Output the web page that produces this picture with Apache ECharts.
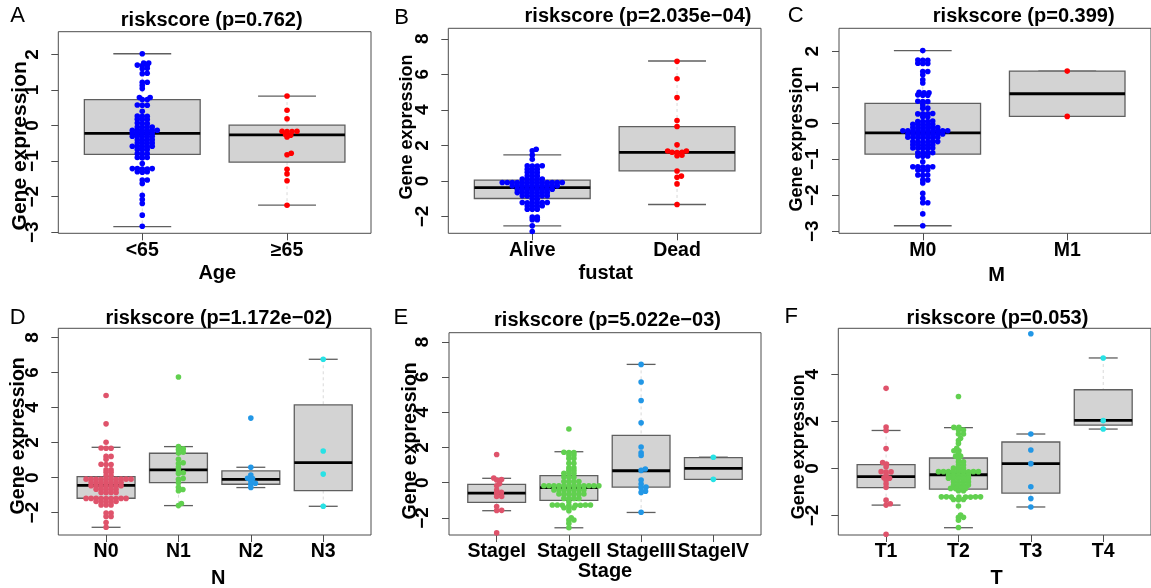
<!DOCTYPE html>
<html><head><meta charset="utf-8">
<script src="https://cdn.jsdelivr.net/npm/echarts@6/dist/echarts.min.js"></script>
<style>html,body{margin:0;padding:0;background:#fff}#c{width:1151px;height:588px}</style>
</head><body><div id="c"></div>
<script>
// ---------------- DATA ----------------
// Panel A: Age
const ageCats = ['<65', '≥65'];
const ageLt65 = [2.02, 1.76,1.76, 1.69,1.69,1.70, 1.60,1.61, 1.46,1.47, 1.22,1.22, 1.13, 1.04,
  0.79,0.79, 0.73,0.73, 0.57,0.57,0.58, 0.40, 0.26,0.26,0.27, 0.17,0.17,0.18, 0.06,0.06,0.07,
  -0.04,-0.04,-0.04,-0.05, -0.13,-0.13,-0.13,-0.13,-0.14,-0.14, -0.21,-0.21,-0.21,-0.22,-0.22,
  -0.30,-0.30,-0.30,-0.31,-0.31, -0.40,-0.40,-0.40,-0.41, -0.49,-0.49,-0.49,-0.50,
  -0.58,-0.58,-0.58,-0.59,-0.59, -0.67,-0.67,-0.68, -0.79,-0.79,-0.80, -0.90,-0.90,-0.91, -1.07,
  -1.21,-1.21,-1.21,-1.22,-1.22, -1.30,-1.30,-1.31, -1.53,-1.53, -1.63,
  -1.96, -2.08, -2.19, -2.52, -2.83];
const ageGe65 = [0.83,0.43,0.19,-0.16,-0.16,-0.17,-0.17,-0.25,-0.27,-0.32,-0.78,-0.82,-1.23,-1.36,-1.55,-2.24];
const ageBoxes = [[-2.84,-0.81,-0.22,0.73,2.02],[-2.24,-1.03,-0.26,0.01,0.83]];

// Panel B: fustat
const fustatCats = ['Alive', 'Dead'];
const fustatAlive = [1.78, 1.69, 1.46, 1.22,
  0.84,0.84,0.85,0.85, 0.65,0.65,0.66, 0.47,0.47,0.48, 0.28,0.28,0.29, 0.09,0.09,0.09,0.10,0.10,
  -0.09,-0.09,-0.09,-0.09,-0.09,-0.09,-0.10,-0.10,-0.10,-0.10,-0.10,-0.10,-0.10,
  -0.28,-0.28,-0.28,-0.28,-0.28,-0.29,-0.29,-0.29,-0.29,-0.29,
  -0.47,-0.47,-0.47,-0.47,-0.48,-0.48,-0.48,-0.48,
  -0.66,-0.66,-0.66,-0.66,-0.67,-0.67,-0.67,
  -0.84,-0.84,-0.84,-0.85,-0.85,-0.85, -1.03,-1.03,
  -1.22,-1.22,-1.22,-1.23,-1.23,-1.23, -1.40,-1.40,-1.41,-1.41, -1.59,-1.59,-1.60,
  -2.04,-2.04, -2.19,-2.19, -2.53, -2.85];
const fustatDead = [6.73,5.75,4.69,3.40,3.06,2.03,1.68,1.68,1.61,1.61,1.60,1.45,1.42,0.56,0.27,0.20,-0.17,-1.33];
const fustatBoxes = [[-2.53,-0.99,-0.38,0.04,1.46],[-1.33,0.56,1.61,3.06,6.75]];

// Panel C: M
const mCats = ['M0', 'M1'];
const mM0 = [2.02, 1.75,1.75,1.76, 1.66,1.66,1.67, 1.44,1.44, 1.35, 1.21, 1.12,
  0.85,0.85,0.86, 0.78,0.78,0.79, 0.60,0.60,0.61, 0.51, 0.42,0.42, 0.26,0.26,0.26,0.27, 0.18,0.18,
  0.05,0.05,0.05,0.06, -0.03,-0.03,-0.03,-0.04,-0.04,
  -0.12,-0.12,-0.12,-0.13,-0.13,-0.13, -0.21,-0.21,-0.21,-0.21,-0.21,-0.22,-0.22,-0.22,-0.22,-0.22,
  -0.30,-0.30,-0.30,-0.30,-0.31,-0.31,-0.31,-0.31, -0.39,-0.39,-0.39,-0.40,-0.40,-0.40,-0.40,
  -0.51,-0.51,-0.51,-0.52,-0.52,-0.52, -0.60,-0.60,-0.60,-0.61,-0.61, -0.69,-0.69,-0.69,-0.70,-0.70,
  -0.82,-0.82,-0.82,-0.83, -0.91,-0.91,-0.92, -1.07,
  -1.21,-1.21,-1.21,-1.22,-1.22, -1.30,-1.30,-1.31, -1.44,-1.44,-1.45, -1.58,-1.58, -1.66,
  -1.95, -2.09, -2.21,-2.21, -2.52, -2.85];
const mM1 = [1.45,0.19];
const mBoxes = [[-2.85,-0.86,-0.27,0.55,2.02],[0.19,0.19,0.82,1.45,1.45]];

// Panel D: N
const nCats = ['N0','N1','N2','N3'];
const nN0 = [4.69, 3.07, 2.02, 1.68,1.68,1.69, 1.21,1.21, 1.05, 0.75,0.75,0.76, 0.45,0.45, 0.30,0.30, 0.10,0.10,
  -0.09,-0.09,-0.09,-0.09,-0.09,-0.10,-0.10,-0.10,-0.10,-0.10,
  -0.28,-0.28,-0.28,-0.28,-0.29,-0.29,-0.29,
  -0.47,-0.47,-0.47,-0.47,-0.48,-0.48,-0.48,
  -0.66,-0.66,-0.66,-0.67,-0.67, -0.85,-0.85,-0.85,-0.86,
  -1.19,-1.19,-1.19,-1.19,-1.19,-1.20,-1.20,-1.20,-1.20,
  -1.37,-1.37,-1.37,-1.38,-1.38, -1.56,-1.56,-1.57,
  -2.03,-2.03, -2.22,-2.22, -2.57, -2.84];
const nN1 = [5.75,1.77,1.64,1.60,1.45,1.40,1.05,0.85,0.80,0.60,0.44,0.28,0.24,-0.05,-0.10,-0.30,-0.55,-0.68,-0.75,-1.48,-1.60];
const nN2 = [3.40,0.59,0.15,-0.04,-0.06,-0.20,-0.32,-0.38,-0.57];
const nN3 = [6.76,1.52,0.20,-1.64];
const nBoxes = [[-2.84,-1.18,-0.44,0.06,1.73],[-1.60,-0.29,0.44,1.39,1.77],[-0.57,-0.38,-0.10,0.38,0.59],[-1.64,-0.74,0.86,4.15,6.76]];

// Panel E: Stage
const stageCats = ['StageI','StageII','StageIII','StageIV'];
const stageI = [1.60,0.27,0.18,0.15,-0.05,-0.17,-0.42,-0.55,-0.60,-0.78,-0.78,-1.35,-1.57,-1.58,-2.85];
const stageII = [3.05, 1.72,1.72,1.73, 1.57,1.57, 1.38,1.38, 1.10,1.10, 0.85,0.85, 0.70,0.70, 0.53,0.53,0.54, 0.31,0.31,0.32, 0.06,0.06,0.07,0.07,
  -0.17,-0.17,-0.17,-0.17,-0.17,-0.17,-0.18,-0.18,-0.18,-0.18,-0.18,-0.18,
  -0.41,-0.41,-0.41,-0.41,-0.42,-0.42,-0.42, -0.64,-0.64,-0.64,-0.65,-0.65,-0.65,
  -0.89,-0.89,-0.89,-0.90, -1.08,
  -1.27,-1.27,-1.27,-1.27,-1.28,-1.28,-1.28,-1.28, -1.42,-1.42,-1.43, -1.59,
  -1.99, -2.12,-2.12, -2.31, -2.56];
const stageIII = [6.72,5.72,4.67,3.40,2.03,1.70,1.55,0.78,0.70,0.15,-0.08,-0.25,-0.28,-0.48,-0.55,-1.68];
const stageIV = [1.45,0.19];
const stageBoxes = [[-1.59,-1.12,-0.59,-0.09,0.25],[-2.56,-1.00,-0.28,0.40,1.76],[-1.69,-0.25,0.68,2.69,6.72],[0.19,0.19,0.81,1.42,1.45]];

// Panel F: T
const tCats = ['T1','T2','T3','T4'];
const tT1 = [3.40,1.76,1.61,0.84,0.25,0.18,0.07,-0.14,-0.15,-0.16,-0.28,-0.40,-0.42,-0.50,-0.65,-0.80,-1.35,-1.50,-1.56,-2.80];
const tT2 = [3.05, 1.74,1.74, 1.63,1.63, 1.46,1.46, 1.28, 1.18, 1.06, 0.85, 0.75,0.75, 0.64, 0.52,0.52, 0.42, 0.28,0.28, 0.14,0.14, 0.00,0.00,0.01,
  -0.14,-0.14,-0.14,-0.14,-0.14,-0.15,-0.15,-0.15,-0.15,
  -0.28,-0.28,-0.28,-0.29,-0.29, -0.42,-0.42,-0.42,-0.43,-0.43,
  -0.57,-0.57,-0.57,-0.58, -0.71,-0.71,-0.71,-0.72, -0.85,-0.85,-0.85,-0.86, -0.95,-0.95,
  -1.21,-1.21,-1.21,-1.21,-1.22,-1.22,-1.22,-1.22, -1.32,-1.32,-1.33, -1.60,
  -1.98, -2.08,-2.08, -2.20, -2.51];
const tT3 = [5.72,1.46,0.78,0.20,-0.78,-1.28,-1.64];
const tT4 = [4.69,2.03,1.67];
const tBoxes = [[-1.56,-0.82,-0.35,0.16,1.61],[-2.52,-0.88,-0.27,0.44,1.73],[-1.64,-1.05,0.20,1.12,1.46],[1.67,1.84,2.04,3.34,4.69]];

// tick values
const ticksA = [-3,-2,-1,0,1,2];
const ticksB = [-2,0,2,4,6,8];
const ticksC = [-3,-2,-1,0,1,2];
const ticksD = [-2,0,2,4,6,8];
const ticksE = [-2,0,2,4,6,8];
const ticksF = [-2,0,2,4];

const colors2 = ['#0000FF','#FF0000'];
const colors4 = ['#DF536B','#61D04F','#2297E6','#28E2E5'];

// ---------------- LAYOUT ----------------
const panels = [
 {letter:'A', title:'riskscore (p=0.762)', xName:'Age', cats:ageCats, groups:[ageLt65,ageGe65], boxes:ageBoxes, colors:colors2, ticks:ticksA, yMin:-3.03, yMax:2.64,
  grid:{left:58.3, top:31.7, width:312.7, height:201.6}, letterPos:[17.5,16], titlePos:[211.7,20], yNamePos:[20.7,145.8], yNameSize:21, xNamePos:[217.3,273.3]},
 {letter:'B', title:'riskscore (p=2.035e\u221204)', xName:'fustat', cats:fustatCats, groups:[fustatAlive,fustatDead], boxes:fustatBoxes, colors:colors2, ticks:ticksB, yMin:-2.95, yMax:8.59,
  grid:{left:448.3, top:28.3, width:312.7, height:205}, letterPos:[401.7,17.5], titlePos:[638,16.7], yNamePos:[407.5,127], yNameSize:18, xNamePos:[605.8,273.3]},
 {letter:'C', title:'riskscore (p=0.399)', xName:'M', cats:mCats, groups:[mM0,mM1], boxes:mBoxes, colors:colors2, ticks:ticksC, yMin:-3.06, yMax:2.64,
  grid:{left:839, top:28.3, width:312.7, height:205}, letterPos:[795.8,16], titlePos:[1023.7,16], yNamePos:[797.5,139], yNameSize:18, xNamePos:[996.7,275]},
 {letter:'D', title:'riskscore (p=1.172e\u221202)', xName:'N', cats:nCats, groups:[nN0,nN1,nN2,nN3], boxes:nBoxes, colors:colors4, ticks:ticksD, yMin:-3.28, yMax:8.53,
  grid:{left:58.3, top:328.3, width:312.7, height:206.7}, letterPos:[17.8,317.5], titlePos:[218.8,318.3], yNamePos:[18.3,435.8], yNameSize:19.5, xNamePos:[218.3,578.3]},
 {letter:'E', title:'riskscore (p=5.022e\u221203)', xName:'Stage', cats:stageCats, groups:[stageI,stageII,stageIII,stageIV], boxes:stageBoxes, colors:colors4, ticks:ticksE, yMin:-2.97, yMax:8.52,
  grid:{left:449, top:332.7, width:312, height:202.3}, letterPos:[400.8,318.3], titlePos:[607.5,320], yNamePos:[410.8,440.8], yNameSize:19.5, xNamePos:[605,571.7]},
 {letter:'F', title:'riskscore (p=0.053)', xName:'T', cats:tCats, groups:[tT1,tT2,tT3,tT4], boxes:tBoxes, colors:colors4, ticks:ticksF, yMin:-2.83, yMax:5.95,
  grid:{left:838.3, top:328.3, width:312.7, height:206.7}, letterPos:[791.3,316.7], titlePos:[997.5,318.3], yNamePos:[799,446.7], yNameSize:18, xNamePos:[996.7,578.3]}
];

const FONT = '"Liberation Sans", Arial, sans-serif';
const FRAME = '#4d4d4d';
const BOXW = 0.8, STAPLEW = 0.4, PT = 5.6, XS = 5.0, YS = 2.6;
const YLABEL_GAP = 26; // distance from plot frame to centre of y tick labels

// beeswarm "swarm" layout in pixel space (elliptical spacing XS x YS)
function swarm(vals, pxPerY) {
  const idx = vals.map((v, i) => i).sort((a, b) => vals[a] - vals[b]);
  const placed = [], out = new Array(vals.length);
  for (const i of idx) {
    const y = vals[i] * pxPerY;
    const cands = [0];
    for (const p of placed) {
      const dy = Math.abs(p.y - y) / YS;
      if (dy < 1) { const dx = XS * Math.sqrt(1 - dy * dy); cands.push(p.x + dx, p.x - dx); }
    }
    cands.sort((a, b) => Math.abs(a) - Math.abs(b) || b - a);
    let chosen = 0;
    for (const c of cands) {
      let ok = true;
      for (const p of placed) {
        const dx = (p.x - c) / XS, dy = (p.y - y) / YS;
        if (dx * dx + dy * dy < 0.999) { ok = false; break; }
      }
      if (ok) { chosen = c; break; }
    }
    placed.push({ x: chosen, y }); out[i] = chosen;
  }
  return out;
}

const minus = v => String(v).replace('-', '\u2212');

const grids = [], xAxes = [], yAxes = [], series = [], graphics = [];
panels.forEach((P, k) => {
  const n = P.cats.length;
  const xMin = 0.5 - 0.04 * n, xMax = n + 0.5 + 0.04 * n;
  const catVals = P.cats.map((c, i) => i + 1);
  grids.push(Object.assign({ show: true, borderColor: FRAME, borderWidth: 1, backgroundColor: 'transparent' }, P.grid));
  xAxes.push({
    gridIndex: k, type: 'value', min: xMin, max: xMax,
    axisLine: { show: false, onZero: false }, splitLine: { show: false },
    axisTick: { show: true, customValues: catVals, length: 7, lineStyle: { color: FRAME, width: 1 } },
    axisLabel: { show: true, customValues: catVals, formatter: v => P.cats[Math.round(v) - 1] || '', margin: 7,
      align: 'center', verticalAlign: 'top',
      fontSize: 19.5, fontWeight: 'bold', color: '#000', fontFamily: FONT }
  });
  yAxes.push({
    gridIndex: k, type: 'value', min: P.yMin, max: P.yMax,
    axisLine: { show: false, onZero: false }, splitLine: { show: false },
    axisTick: { show: true, customValues: P.ticks, length: 7, lineStyle: { color: FRAME, width: 1 } },
    axisLabel: { show: false }
  });
  // y tick labels, rotated, positioned through the y axis scale
  series.push({
    type: 'custom', xAxisIndex: k, yAxisIndex: k, z: 3, silent: true, clip: false,
    data: P.ticks.map(t => [xMin, t]),
    renderItem: (params, api) => {
      const p = api.coord([api.value(0), api.value(1)]);
      return { type: 'text', x: p[0] - YLABEL_GAP, y: p[1], rotation: Math.PI / 2,
        style: { text: minus(api.value(1)), fontSize: 19, fontWeight: 'bold', fontFamily: FONT, fill: '#000', align: 'center', verticalAlign: 'middle' } };
    }
  });
  // boxes
  series.push({
    type: 'custom', xAxisIndex: k, yAxisIndex: k, z: 2, silent: true,
    data: P.boxes.map((b, i) => [i + 1].concat(b)),
    renderItem: (params, api) => {
      const x = api.value(0), lo = api.value(1), q1 = api.value(2), md = api.value(3), q3 = api.value(4), hi = api.value(5);
      const c = api.coord([x, md]);
      const pl = api.coord([x - BOXW / 2, q3]), pr = api.coord([x + BOXW / 2, q1]);
      const sl = api.coord([x - STAPLEW / 2, hi])[0], sr = api.coord([x + STAPLEW / 2, hi])[0];
      const yHi = api.coord([x, hi])[1], yLo = api.coord([x, lo])[1];
      const grey = '#5f5f5f';
      return { type: 'group', children: [
        { type: 'line', shape: { x1: c[0], y1: yHi, x2: c[0], y2: pl[1] }, style: { stroke: '#d9d9d9', lineWidth: 1, lineDash: [3, 3] } },
        { type: 'line', shape: { x1: c[0], y1: pr[1], x2: c[0], y2: yLo }, style: { stroke: '#d9d9d9', lineWidth: 1, lineDash: [3, 3] } },
        { type: 'line', shape: { x1: sl, y1: yHi, x2: sr, y2: yHi }, style: { stroke: grey, lineWidth: 1.3 } },
        { type: 'line', shape: { x1: sl, y1: yLo, x2: sr, y2: yLo }, style: { stroke: grey, lineWidth: 1.3 } },
        { type: 'rect', shape: { x: pl[0], y: pl[1], width: pr[0] - pl[0], height: pr[1] - pl[1] }, style: { fill: '#D3D3D3', stroke: grey, lineWidth: 1.3 } },
        { type: 'line', shape: { x1: pl[0], y1: c[1], x2: pr[0], y2: c[1] }, style: { stroke: '#000', lineWidth: 2.8 } }
      ] };
    }
  });
  // points
  const pxPerY = P.grid.height / (P.yMax - P.yMin);
  const pxPerX = P.grid.width / (xMax - xMin);
  P.groups.forEach((vals, gi) => {
    const offs = swarm(vals, pxPerY);
    series.push({
      type: 'scatter', xAxisIndex: k, yAxisIndex: k, z: 5, silent: true,
      symbol: 'circle', symbolSize: PT,
      itemStyle: { color: P.colors[gi], opacity: 1 },
      data: vals.map((v, j) => [gi + 1 + offs[j] / pxPerX, v])
    });
  });
  const txt = (pos, text, size, weight, rot) => ({ type: 'text', x: pos[0], y: pos[1], rotation: rot || 0, silent: true,
    style: { text, fontSize: size, fontWeight: weight, fontFamily: FONT, fill: '#000', align: 'center', verticalAlign: 'middle' } });
  graphics.push(txt(P.letterPos, P.letter, 22, 'normal'));
  graphics.push(txt(P.titlePos, P.title, 20, 'bold'));
  graphics.push(txt(P.yNamePos, 'Gene expression', P.yNameSize, 'bold', Math.PI / 2));
  graphics.push(txt(P.xNamePos, P.xName, 20, 'bold'));
});

const chart = echarts.init(document.getElementById('c'), null, { renderer: 'canvas' });
chart.setOption({
  animation: false, backgroundColor: '#fff',
  grid: grids, xAxis: xAxes, yAxis: yAxes, series, graphic: graphics
});
</script></body></html>
